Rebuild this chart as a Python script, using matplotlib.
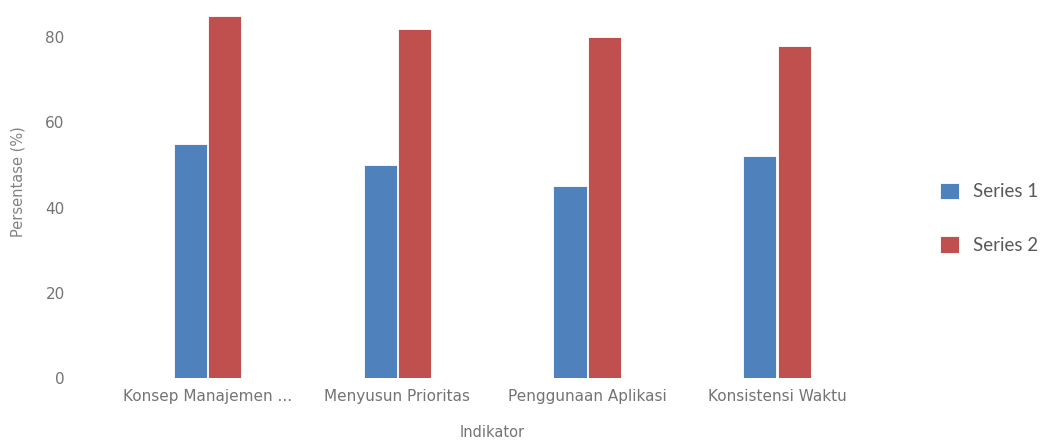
import matplotlib
matplotlib.use("Agg")
import matplotlib.pyplot as plt
import numpy as np

categories = ["Konsep Manajemen ...", "Menyusun Prioritas", "Penggunaan Aplikasi", "Konsistensi Waktu"]
series1 = [55, 50, 45, 52]
series2 = [85, 82, 80, 78]
series_names = ["Series 1", "Series 2"]
colors = ["#4F81BD", "#C0504D"]
yticks = [0, 20, 40, 60, 80]

plt.rcParams['font.family'] = ['DejaVu Sans']

fig = plt.figure(figsize=(10.43, 4.41), dpi=100)
ax = fig.add_axes([0.108, 0.1429, 0.728, 0.831])

x = np.arange(len(categories))
w = 0.175
gap = 0.006
ax.bar(x - w/2 - gap/2, series1, width=w, color=colors[0], edgecolor="white", linewidth=0.6, label=series_names[0])
ax.bar(x + w/2 + gap/2, series2, width=w, color=colors[1], edgecolor="white", linewidth=0.6, label=series_names[1])

ax.set_xlim(-0.5, len(categories) - 0.5)
ax.set_ylim(0, 86)
ax.set_yticks(yticks)
ax.set_xticks(x)
ax.set_xticklabels(categories, fontsize=11, color="#747474")
ax.tick_params(axis="y", labelsize=11, labelcolor="#747474", length=0, pad=34.5)
ax.tick_params(axis="x", length=0, pad=8)
for s in ax.spines.values():
    s.set_visible(False)

ax.set_ylabel("Persentase (%)", fontsize=10.5, color="#828282")
ax.yaxis.set_label_coords(-0.115, 0.535)
ax.set_xlabel("Indikator", fontsize=10.5, color="#747474")
ax.xaxis.set_label_coords(0.4993, -0.128)

leg = fig.legend(loc="center left", bbox_to_anchor=(0.885, 0.505), frameon=False,
                 prop={"family": "Lato", "size": 13.5}, labelcolor="#595959",
                 handlelength=1.0, handleheight=1.0,
                 labelspacing=1.9, handletextpad=0.75)

fig.savefig("out.png", dpi=100)
